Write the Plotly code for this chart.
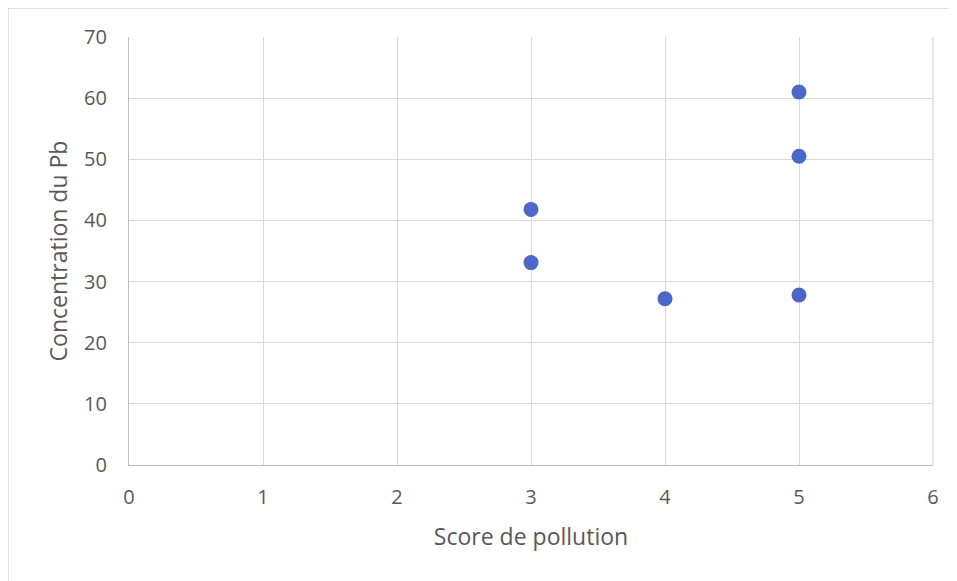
import plotly.graph_objects as go

score = [3, 3, 4, 5, 5, 5]
conc_pb = [41.8, 33.1, 27.2, 61.0, 50.5, 27.8]

x_ticks = [0, 1, 2, 3, 4, 5, 6]
y_ticks = [0, 10, 20, 30, 40, 50, 60, 70]

fig = go.Figure()
fig.add_trace(go.Scatter(
    x=score, y=conc_pb, mode="markers",
    marker=dict(color="#4A67C9", size=15, line=dict(width=0)),
    showlegend=False, hoverinfo="x+y",
))

font_family = "Open Sans, Liberation Sans, sans-serif"
# page body adds an 8px offset; compensate in margins
L, T = 121, 29
PW, PH = 804, 428
fig.update_layout(
    width=957, height=581,
    margin=dict(l=L, r=957 - L - PW, t=T, b=581 - T - PH),
    paper_bgcolor="white", plot_bgcolor="white",
    font=dict(family=font_family, color="#595959", size=21),
    xaxis=dict(
        range=[0, 6], tickvals=x_ticks, showgrid=True, gridcolor="#D9D9D9", gridwidth=1.3,
        zeroline=False, showline=True, linecolor="#BFBFBF", linewidth=1.3,
        ticks="outside", ticklen=14, tickcolor="rgba(0,0,0,0)",
        tickfont=dict(size=20, color="#595959"),
        title=dict(text="Score de pollution", font=dict(size=23, color="#595959"), standoff=19),
        fixedrange=True,
    ),
    yaxis=dict(
        range=[0, 70], tickvals=y_ticks, showgrid=True, gridcolor="#D9D9D9", gridwidth=1.3,
        zeroline=False, showline=True, linecolor="#BFBFBF", linewidth=1.3,
        ticks="outside", ticklen=17, tickcolor="rgba(0,0,0,0)",
        tickfont=dict(size=20, color="#595959"),
        title=dict(text="Concentration du Pb", font=dict(size=23, color="#595959"), standoff=9),
        fixedrange=True,
    ),
    shapes=[
        dict(type="line", xref="paper", yref="paper", x0=1, x1=1, y0=0, y1=1,
             line=dict(color="#D9D9D9", width=1.3)),
        dict(type="rect", xref="paper", yref="paper",
             x0=(0 - L) / PW, x1=(975 - L) / PW,
             y0=-(600 - T - PH) / PH, y1=(T + PH) / PH,
             line=dict(color="#D9D9D9", width=1.5), fillcolor="rgba(0,0,0,0)", layer="below"),
    ],
)

fig.write_html("out.html")
